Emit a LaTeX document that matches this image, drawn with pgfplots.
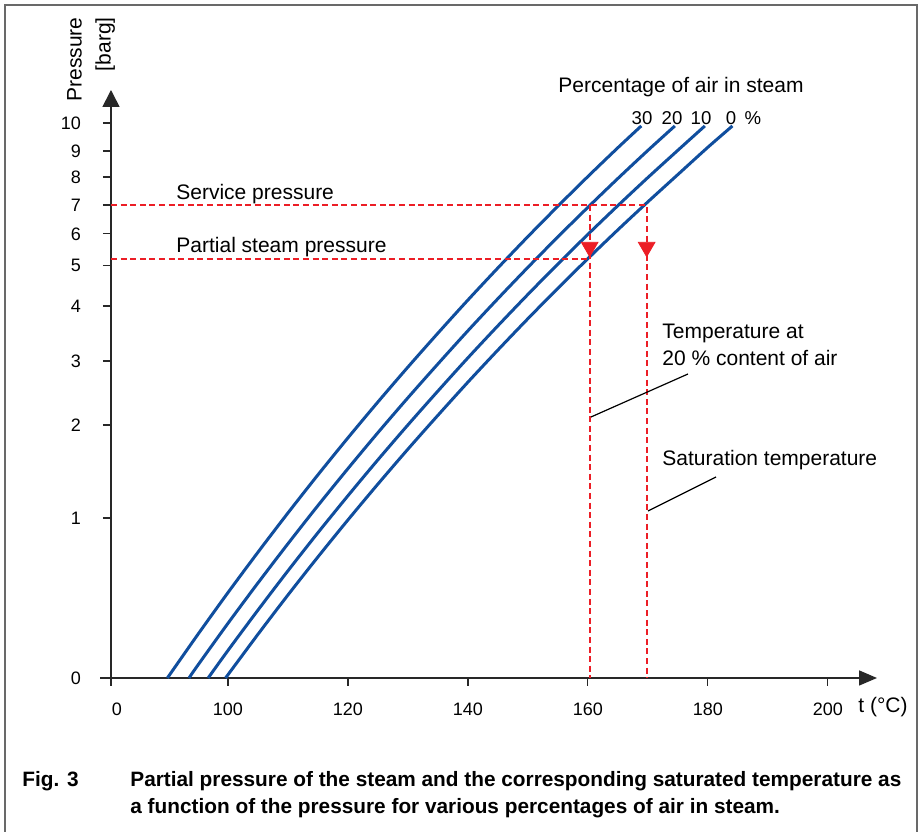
\documentclass[border=0pt]{standalone}
\usepackage{pgfplots}
\pgfplotsset{compat=1.18}
\usetikzlibrary{arrows.meta}
\usepackage{fontspec}
\setmainfont{Liberation Sans}

\definecolor{curveblue}{RGB}{16,78,158}
\definecolor{markred}{RGB}{236,30,38}
\definecolor{framegray}{RGB}{105,105,105}
\definecolor{axisgray}{RGB}{40,40,40}

% saturation line, p (bar abs) over t (degC), one table per air content
\pgfplotstableread{
t p
99.6 1.000
105 1.209
110 1.434
115 1.692
120 1.987
125 2.322
130 2.702
135 3.130
140 3.615
145 4.156
150 4.762
155 5.435
160 6.181
165 7.005
170 7.912
175 8.906
180 10.026
184.1 11.0
}\airzero
\pgfplotstableread{
t p
96.7 1.000
100 1.127
105 1.343
110 1.593
115 1.880
120 2.207
125 2.580
130 3.002
135 3.478
140 4.017
145 4.618
150 5.291
155 6.039
160 6.868
165 7.783
170 8.791
175 9.896
179.5 11.0
}\airten
\pgfplotstableread{
t p
93.5 1.000
95 1.058
100 1.268
105 1.511
110 1.792
115 2.115
120 2.483
125 2.903
130 3.378
135 3.913
140 4.519
145 5.195
150 5.952
155 6.794
160 7.726
165 8.756
170 9.890
174.5 11.0
}\airtwenty
\pgfplotstableread{
t p
89.9 1.000
95 1.209
100 1.449
105 1.727
110 2.048
115 2.417
120 2.838
125 3.317
130 3.860
135 4.472
140 5.164
145 5.937
150 6.802
155 7.764
160 8.830
165 10.007
168.9 11.0
}\airthirty

\begin{document}
\begin{tikzpicture}[font=\fontsize{10.5}{12.6}\selectfont]
% page = original figure, 1 px = 0.5 pt, axis origin at px (111,678)
\begin{scope}[x=0.5pt,y=-0.5pt,shift={(-111,-678)}]
  \useasboundingbox (0,0) rectangle (922,832);
\end{scope}

\begin{axis}[
  at={(0,0)}, anchor=south west,
  scale only axis,
  width=383pt, height=294pt,
  xmin=80.5, xmax=208.2,
  ymode=log, ymin=1, ymax=12.86,
  axis lines=left,
  axis line style={line width=0.8pt, draw=axisgray},
  x axis line style={-{Triangle[length=9pt,width=7.5pt]}},
  y axis line style={-{Triangle[length=8.5pt,width=8.5pt]}},
  tick align=outside,
  major tick length=4pt,
  tick style={line width=0.6pt, draw=axisgray},
  xtick={80.5,100,120,140,160,180,200},
  xticklabels={\hspace{6pt}0,100,120,140,160,180,200},
  ytick={1,2.004,3.001,3.964,5.033,5.990,6.883,7.806,8.816,9.87,11.14},
  yticklabels={0,1,2,3,4,5,6,7,8,9,10},
  tick label style={font=\fontsize{9}{10}\selectfont},
  /pgf/number format/assume math mode=true,
  yticklabel style={xshift=-7.5pt},
  xticklabel style={yshift=-5pt},
  clip=false,
]
\addplot[curveblue, line width=1.5pt, smooth] table[x=t,y=p] {\airthirty};
\addplot[curveblue, line width=1.5pt, smooth] table[x=t,y=p] {\airtwenty};
\addplot[curveblue, line width=1.5pt, smooth] table[x=t,y=p] {\airten};
\addplot[curveblue, line width=1.5pt, smooth] table[x=t,y=p] {\airzero};

% service pressure 7 barg and the two temperatures
\addplot[markred, line width=1pt, dash pattern=on 3pt off 1.8pt]
  coordinates {(80.5,7.806) (169.8,7.806) (169.8,1)};
\addplot[markred, line width=1pt, dash pattern=on 3pt off 1.8pt]
  coordinates {(160.3,7.806) (160.3,1)};
\addplot[markred, line width=1pt, dash pattern=on 3pt off 1.8pt]
  coordinates {(80.5,6.18) (160.3,6.18)};
\addplot[only marks, mark=triangle*, mark size=4.8pt,
  mark options={rotate=180, fill=markred, draw=markred, solid}]
  coordinates {(160.3,6.5) (169.8,6.5)};
\end{axis}

\begin{scope}[x=0.5pt,y=-0.5pt,shift={(-111,-678)}]
  % frame
  \draw[framegray, line width=0.8pt] (5,832) -- (5,5) -- (917,5) -- (917,832);
  % x axis stub left of the y axis
  \draw[axisgray, line width=0.8pt] (100,678) -- (111,678);
  % axis titles
  \node[rotate=90, anchor=east, align=right, inner sep=0pt,
        font=\fontsize{10.5}{14.5}\selectfont] at (91,17) {Pressure\\{}[barg]};
  \node[anchor=base west, inner sep=0pt] at (858,713) {t (°C)};
  % annotations
  \node[anchor=base west, inner sep=0pt] at (558,93) {Percentage of air in steam};
  \begin{scope}[every node/.style={anchor=base, inner sep=0pt, font=\fontsize{9.3}{10}\selectfont}]
    \node at (642,125) {30};
    \node at (672,125) {20};
    \node at (701,125) {10};
    \node at (731,125) {0};
    \node at (753,125) {\%};
  \end{scope}
  \node[anchor=base west, inner sep=0pt] at (176,200) {Service pressure};
  \node[anchor=base west, inner sep=0pt] at (176,253) {Partial steam pressure};
  \node[anchor=base west, inner sep=0pt] at (662,339) {Temperature at};
  \node[anchor=base west, inner sep=0pt] at (662,366) {20 \% content of air};
  \node[anchor=base west, inner sep=0pt] at (662,466) {Saturation temperature};
  \draw[black, line width=0.6pt] (591,417) -- (688,374);
  \draw[black, line width=0.6pt] (648,511) -- (716,477);
  % caption
  \begin{scope}[every node/.style={anchor=base west, inner sep=0pt, font=\fontsize{10.4}{12}\selectfont\bfseries}]
    \node at (22,787) {Fig. 3};
    \node at (130,787) {Partial pressure of the steam and the corresponding saturated temperature as};
    \node at (130,814) {a function of the pressure for various percentages of air in steam.};
  \end{scope}
\end{scope}
\end{tikzpicture}
\end{document}
